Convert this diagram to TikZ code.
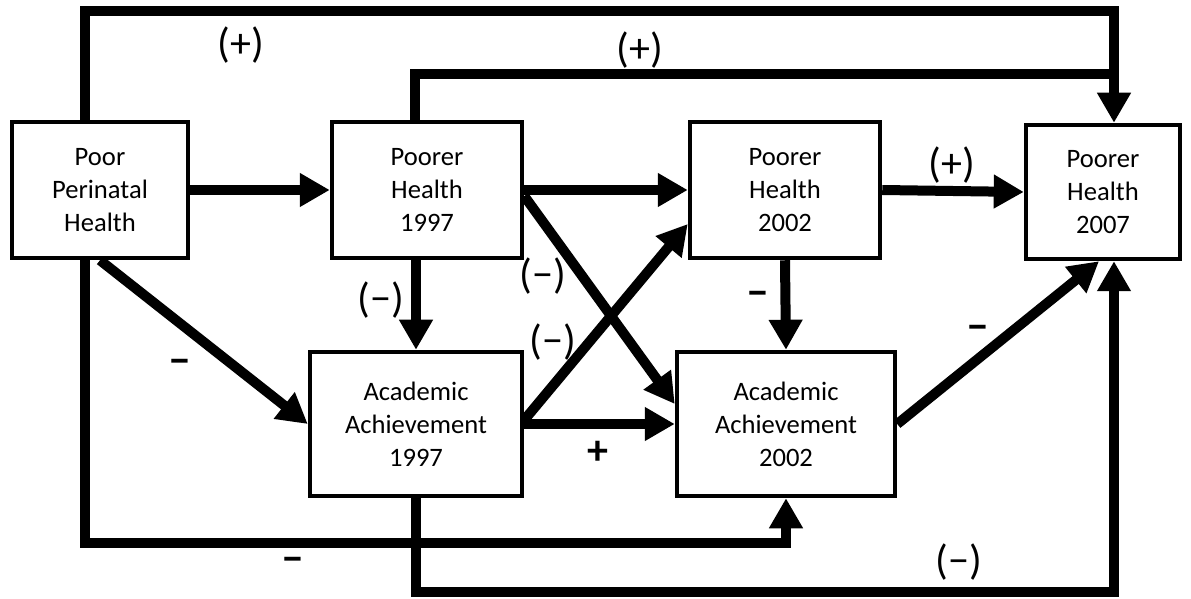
\documentclass[tikz,border=0pt]{standalone}
\usepackage{fontspec}
\setmainfont{Carlito}
\usetikzlibrary{arrows.meta,positioning,calc}

\tikzset{
  box/.style={draw, line width=2.25pt, align=center, inner sep=0pt,
              font=\fontsize{13.3}{16.5}\selectfont},
  link/.style={line width=5pt, line join=miter},
  arr/.style={link, -{Triangle[length=15pt,width=16pt]}},
  sign/.style={font=\fontsize{21}{24}\selectfont},
  bsign/.style={font=\bfseries\fontsize{21}{24}\selectfont},
}

\begin{document}
\begin{tikzpicture}[x=0.5pt, y=-0.5pt]
  \useasboundingbox (0,0) rectangle (1191,599);

  % boxes
  \node[box, minimum width=88pt, minimum height=68pt] (pph) at (100,190) {Poor\\Perinatal\\Health};
  \node[box, minimum width=95pt, minimum height=68pt] (ph97) at (427,190) {Poorer\\Health\\1997};
  \node[box, minimum width=95pt, minimum height=68pt] (ph02) at (785,190) {Poorer\\Health\\2002};
  \node[box, minimum width=77pt, minimum height=67pt] (ph07) at (1103,192) {Poorer\\Health\\2007};
  \node[box, minimum width=106pt, minimum height=72pt] (aa97) at (416,424) {Academic\\Achievement\\1997};
  \node[box, minimum width=109pt, minimum height=72pt] (aa02) at (786,424) {Academic\\Achievement\\2002};

  % corners of the long paths
  \coordinate (c1) at (85,11);
  \coordinate (c2) at (1114,11);
  \coordinate (c3) at (415,74);
  \coordinate (c4) at (1114,74);
  \coordinate (c5) at (85,543);
  \coordinate (c6) at (786,543);
  \coordinate (c7) at (416,592);
  \coordinate (c8) at (1114,592);

  % straight paths
  \draw[arr] (pph.east) -- (ph97.west);
  \draw[arr] (ph97.east) -- (ph02.west);
  \draw[arr] (ph02.east) -- (ph07.west);
  \draw[arr] (aa97.north |- ph97.south) -- (aa97.north);
  \draw[arr] (ph02.south) -- (aa02.north);
  \draw[arr] (pph.south) -- (aa97.west);
  \draw[arr] ([yshift=-3pt]ph97.east) -- ([yshift=10pt]aa02.west);
  \draw[arr] ([yshift=2pt]aa97.east) -- ([yshift=-17pt]ph02.west);
  \draw[arr] (aa97.east) -- (aa02.west);
  \draw[arr] (aa02.east) -- ([xshift=-2pt]ph07.south);

  % long paths
  \draw[arr] (c1 |- pph.north) -- (c1) -- (c2) -- (c2 |- ph07.north);
  \draw[link] (c3 |- ph97.north) -- (c3) -- (c4);
  \draw[arr] (c5 |- pph.south) -- (c5) -- (c6) -- (c6 |- aa02.south);
  \draw[arr] (aa97.south) -- (c7) -- (c8) -- (c8 |- ph07.south);

  % signs
  \node[sign] (s1) at (241,45) {(+)};
  \node[sign] (s2) at (640,50) {(+)};
  \node[sign] (s3) at (952,165) {(+)};
  \node[sign] (s4) at (381,300) {(−)};
  \node[sign] (s5) at (543,276) {(−)};
  \node[sign] (s6) at (553,342) {(−)};
  \node[sign] (s7) at (959,562) {(−)};
  \node[bsign] (s8) at (180,367) {−};
  \node[bsign] (s9) at (293,565) {−};
  \node[bsign] (s10) at (758,299) {−};
  \node[bsign] (s11) at (978,333) {−};
  \node[bsign] (s12) at (598,453) {+};
\end{tikzpicture}
\end{document}
